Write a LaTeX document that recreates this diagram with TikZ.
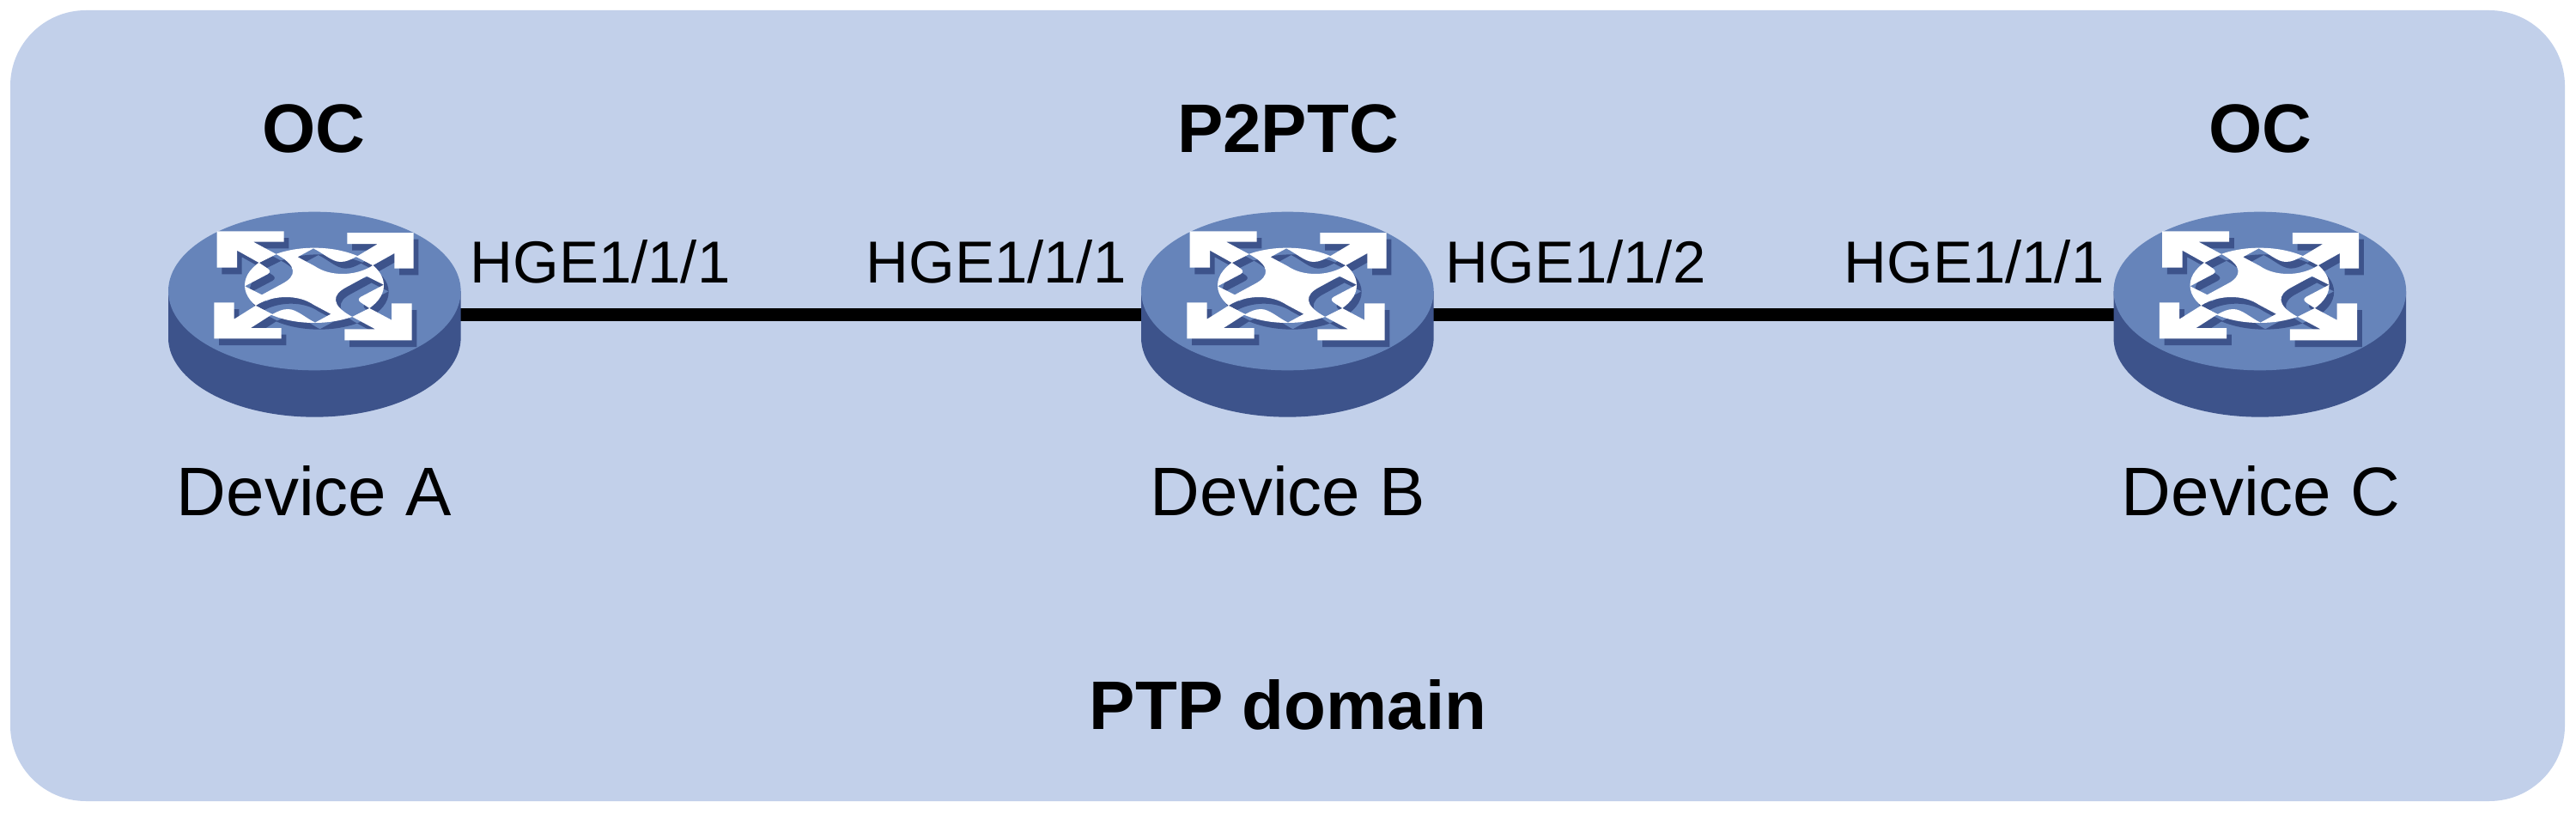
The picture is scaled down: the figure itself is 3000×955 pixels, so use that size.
\documentclass[tikz,border=0pt]{standalone}
\usepackage{fontspec}
\setmainfont{Liberation Sans}
\definecolor{panelc}{RGB}{194,208,234}
\definecolor{topc}{RGB}{102,132,186}
\definecolor{sidec}{RGB}{61,83,139}
\newcommand{\iconshape}[1]{%
  % ellipse with four cut-outs
  \fill[#1,even odd rule] (588,337) ellipse [x radius=81pt,y radius=43.67pt]
    (345,340) -- (405,370) -- (475,332) .. controls (528,305) and (530,268) .. (455,228) -- (395,258) -- (425,278) .. controls (435,285) and (435,292) .. (425,298) -- cycle
    (530,238) -- (585,208) .. controls (620,225) and (650,255) .. (680,255) .. controls (700,255) and (715,247) .. (735,237) -- (793,267) .. controls (730,308) and (640,305) .. (590,270) -- cycle
    (831,335) -- (771,305) -- (701,343) .. controls (648,370) and (646,407) .. (721,447) -- (781,417) -- (751,397) .. controls (741,390) and (741,383) .. (751,377) -- cycle
    (646,437) -- (591,467) .. controls (556,450) and (526,420) .. (496,420) .. controls (476,420) and (461,428) .. (441,438) -- (383,408) .. controls (446,367) and (536,370) .. (586,405) -- cycle;
  % four arrows
  \fill[#1] (248,148) -- (482,148) -- (482,185) -- (375,185) -- (455,228) -- (395,258) -- (318,215) -- (318,275) -- (248,275) -- cycle;
  \fill[#1] (935,153) -- (703,153) -- (703,192) -- (810,192) -- (735,237) -- (793,267) -- (868,225) -- (868,278) -- (935,278) -- cycle;
  \fill[#1] (238,523) -- (473,523) -- (473,486) -- (366,486) -- (441,438) -- (383,408) -- (308,455) -- (308,397) -- (238,397) -- cycle;
  \fill[#1] (929,529) -- (694,529) -- (694,490) -- (801,490) -- (721,447) -- (781,417) -- (858,458) -- (858,400) -- (929,400) -- cycle;
}
\newcommand{\routerbody}[1]{%
  \begin{scope}[xshift=#1pt,yshift=-220pt,x=0.33333pt,y=-0.33333pt]
    \fill[sidec] (78,357) -- (78,520) arc [start angle=180,end angle=360,x radius=170.33pt,y radius=92.33pt] -- (1100,357) -- cycle;
    \fill[topc] (589,357) ellipse [x radius=170.33pt,y radius=92.33pt];
    \begin{scope}[xshift=5.67pt,yshift=-7.67pt]\iconshape{sidec}\end{scope}
    \iconshape{white}
  \end{scope}}
\tikzset{
  lab/.style={inner sep=0pt,anchor=base,font=\fontsize{80}{96}\selectfont},
  role/.style={inner sep=0pt,anchor=base,font=\fontsize{80}{96}\selectfont\bfseries},
  port/.style={inner sep=0pt,anchor=base,font=\fontsize{69}{84}\selectfont},
  hub/.style={inner sep=0pt,minimum width=340pt,minimum height=15pt},
  link/.style={line width=15pt}
}
\begin{document}
\begin{tikzpicture}[x=1pt,y=-1pt]
\useasboundingbox (0,0) rectangle (3000,955);
\fill[panelc,rounded corners=88pt] (12,12) rectangle (2987,933);
\node[hub] (devA) at (366.5,366.5) {};
\node[hub] (devB) at (1499.5,366.5) {};
\node[hub] (devC) at (2632,366.5) {};
\draw[link] (devA.center) -- (devB.center);
\draw[link] (devB.center) -- (devC.center);
\routerbody{170}
\routerbody{1303}
\routerbody{2435.5}
\node[role] (roleA) at (365,177) {OC};
\node[role] (roleB) at (1500,177) {P2PTC};
\node[role] (roleC) at (2632,177) {OC};
\node[lab] (nameA) at (366,600) {Device A};
\node[lab] (nameB) at (1500,600) {Device B};
\node[lab] (nameC) at (2633,600) {Device C};
\node[port] (pA) at (699,329) {HGE1/1/1};
\node[port] (pB1) at (1160,329) {HGE1/1/1};
\node[port] (pB2) at (1835,329) {HGE1/1/2};
\node[port] (pC) at (2299,329) {HGE1/1/1};
\node[role] (domain) at (1500,849) {PTP domain};
\end{tikzpicture}
\end{document}
